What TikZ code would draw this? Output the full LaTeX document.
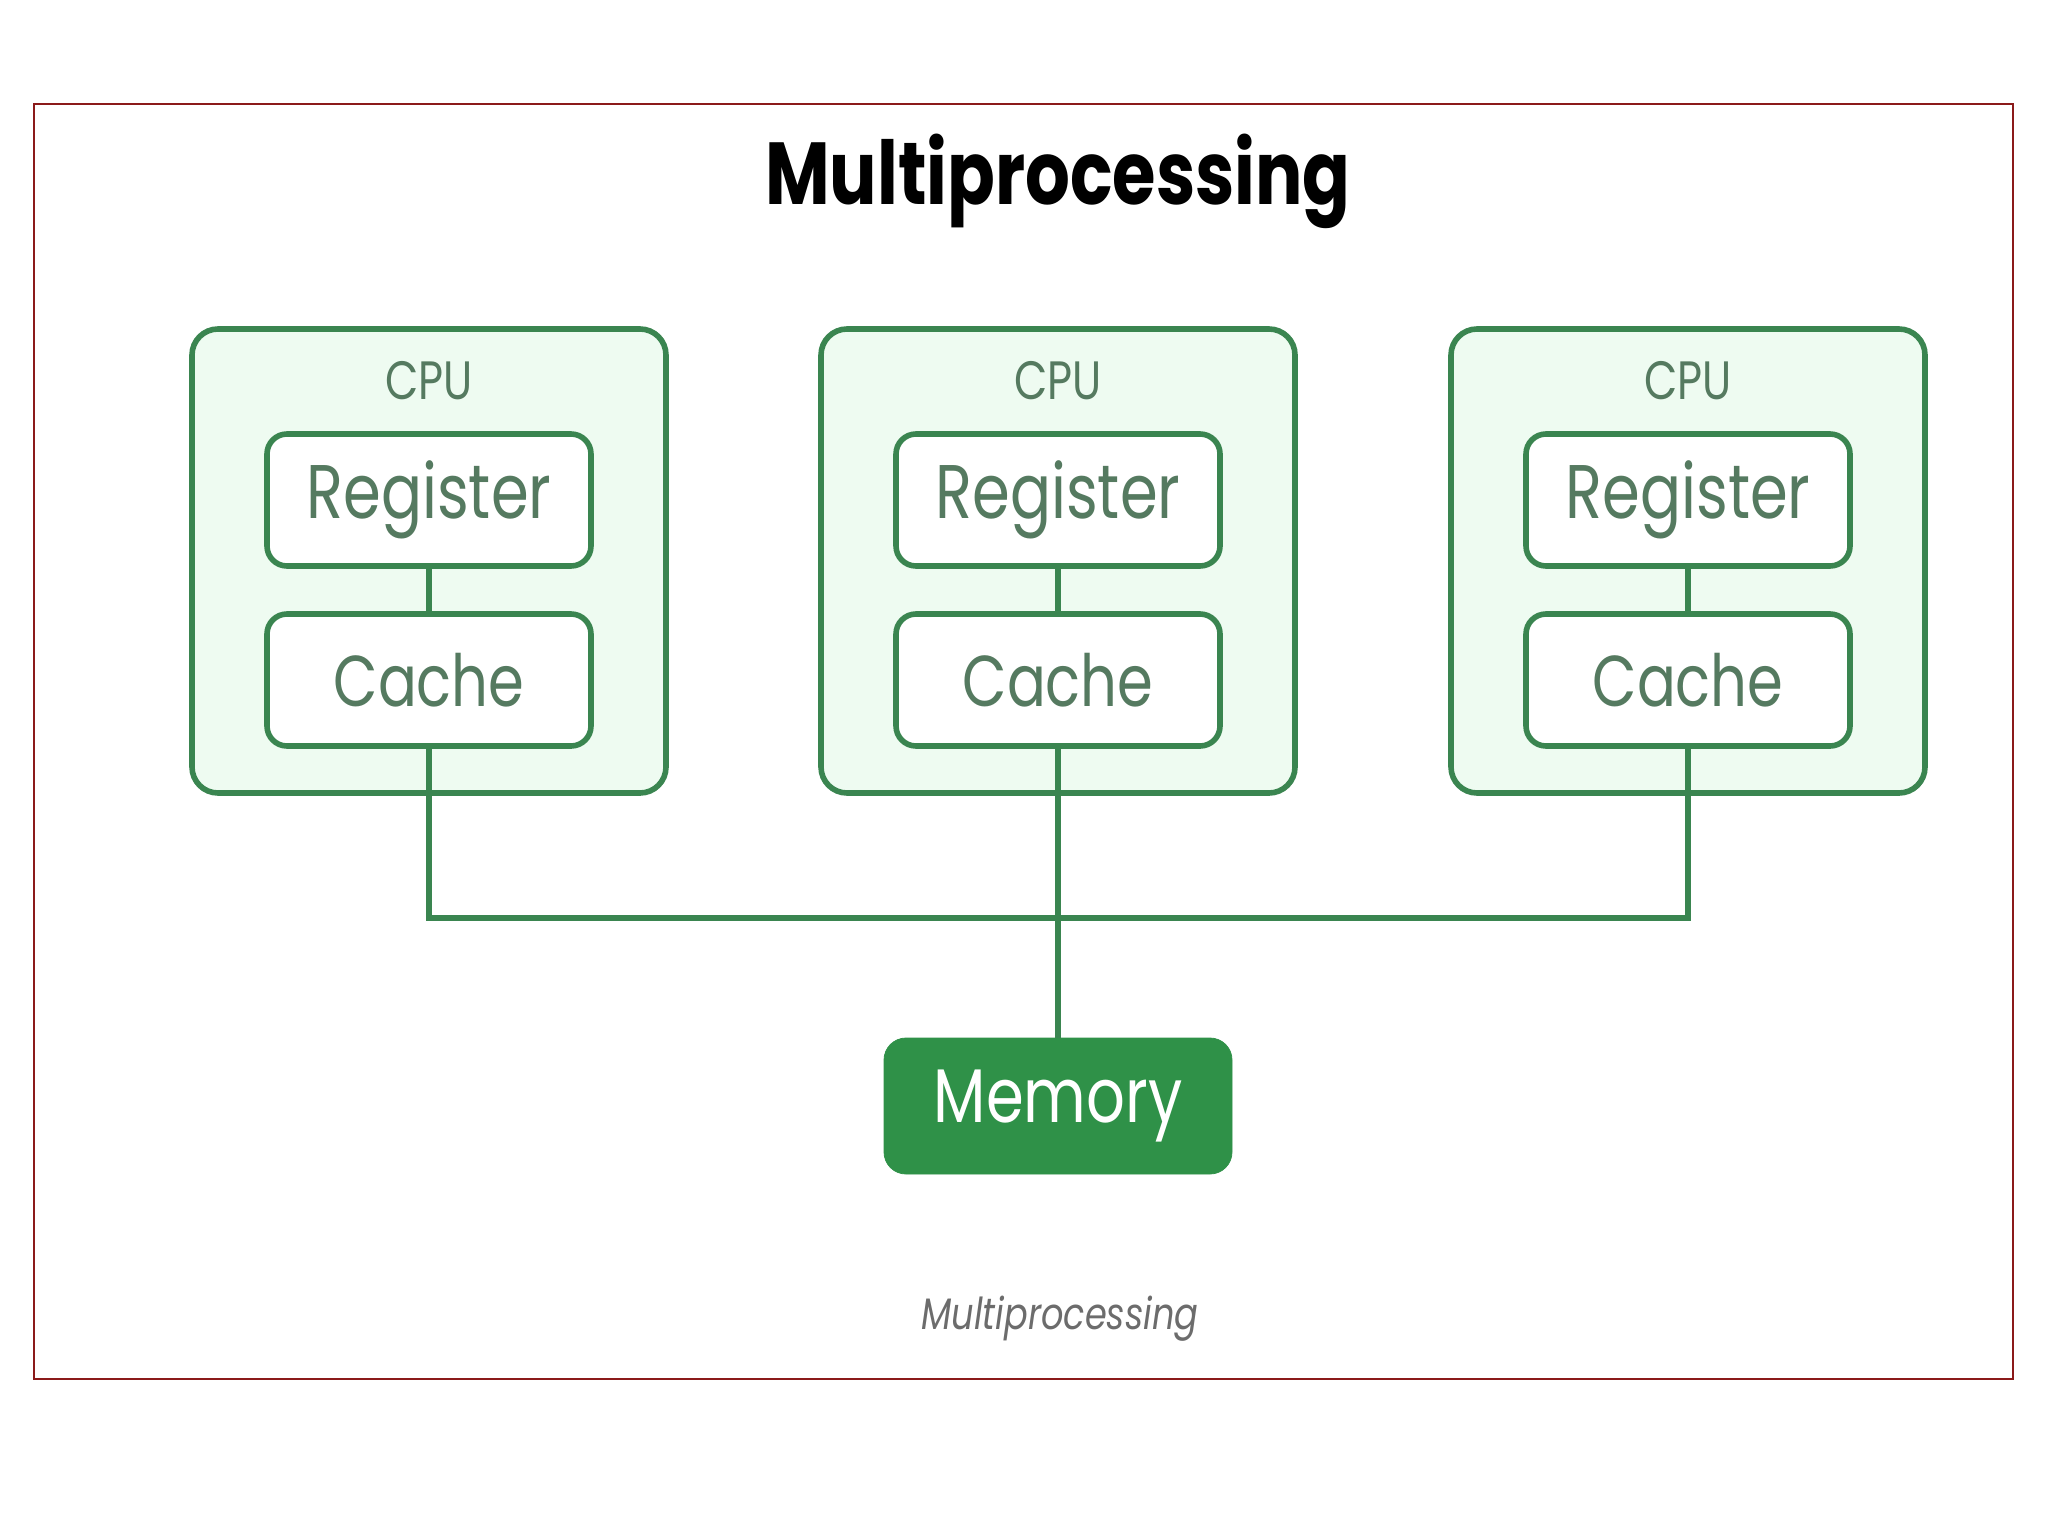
\documentclass[tikz,border=0pt]{standalone}
\usepackage{fontspec}
\setmainfont{Poppins}[FakeStretch=0.8]
\usepackage{tikz}
\definecolor{frame}{HTML}{8B1A1A}
\definecolor{gfgline}{HTML}{3A8550}
\definecolor{gfgfill}{HTML}{EEFBF1}
\definecolor{gfgtext}{HTML}{557A60}
\definecolor{gfgdark}{HTML}{2F9148}
\tikzset{
  cpubox/.style={draw=gfgline, line width=2.8pt, fill=gfgfill, rounded corners=13pt,
    minimum width=237pt, minimum height=232pt},
  unitbox/.style={draw=gfgline, line width=2.8pt, fill=white, rounded corners=10pt,
    minimum width=162pt, minimum height=66pt, text=gfgtext, font=\fontsize{38}{40}\selectfont},
  cpulabel/.style={text=gfgtext, font=\fontsize{27}{30}\selectfont},
  wire/.style={draw=gfgline, line width=2.8pt}
}

\begin{document}
\begin{tikzpicture}[x=0.5pt, y=-0.5pt]
            \useasboundingbox (0,0) rectangle (2048,1536);
            \draw[frame, line width=1.2pt] (34,104) rectangle (2013,1379);
            \node (title) at (1058,181) {\fontsize{44}{46}\selectfont\bfseries Multiprocessing};

            \node[cpubox] (cpu1) at (429,561) {};
            \node[cpubox] (cpu2) at (1058,561) {};
            \node[cpubox] (cpu3) at (1688,561) {};
            \node[cpulabel] (lab1) at (429,381) {CPU};
            \node[cpulabel] (lab2) at (1058,381) {CPU};
            \node[cpulabel] (lab3) at (1688,381) {CPU};

            \draw[wire] (429,500) -- (429,680);
            \draw[wire] (1058,500) -- (1058,680);
            \draw[wire] (1688,500) -- (1688,680);

            \node[unitbox] (reg1) at (429,500) {Register};
            \node[unitbox] (reg2) at (1058,500) {Register};
            \node[unitbox] (reg3) at (1688,500) {Register};
            \node[unitbox, font=\fontsize{36}{38}\selectfont] (cache1) at (429,680) {Cache};
            \node[unitbox, font=\fontsize{36}{38}\selectfont] (cache2) at (1058,680) {Cache};
            \node[unitbox, font=\fontsize{36}{38}\selectfont] (cache3) at (1688,680) {Cache};

            \node[draw=gfgdark, fill=gfgdark, rounded corners=11pt, minimum width=174pt,
              minimum height=68pt, text=white, font=\fontsize{38}{40}\selectfont] (mem) at (1058,1106) {Memory};

            \coordinate (bus) at (1058,918);
            \draw[wire] (cache1.south) -- (cache1.south |- bus) -- (cache3.south |- bus) -- (cache3.south);
            \draw[wire] (cache2.south) -- (mem.north);

            \node[text=gray!85!black] (caption) at (1060,1319) {\fontsize{22}{24}\selectfont\itshape Multiprocessing};
          \end{tikzpicture}
\end{document}
